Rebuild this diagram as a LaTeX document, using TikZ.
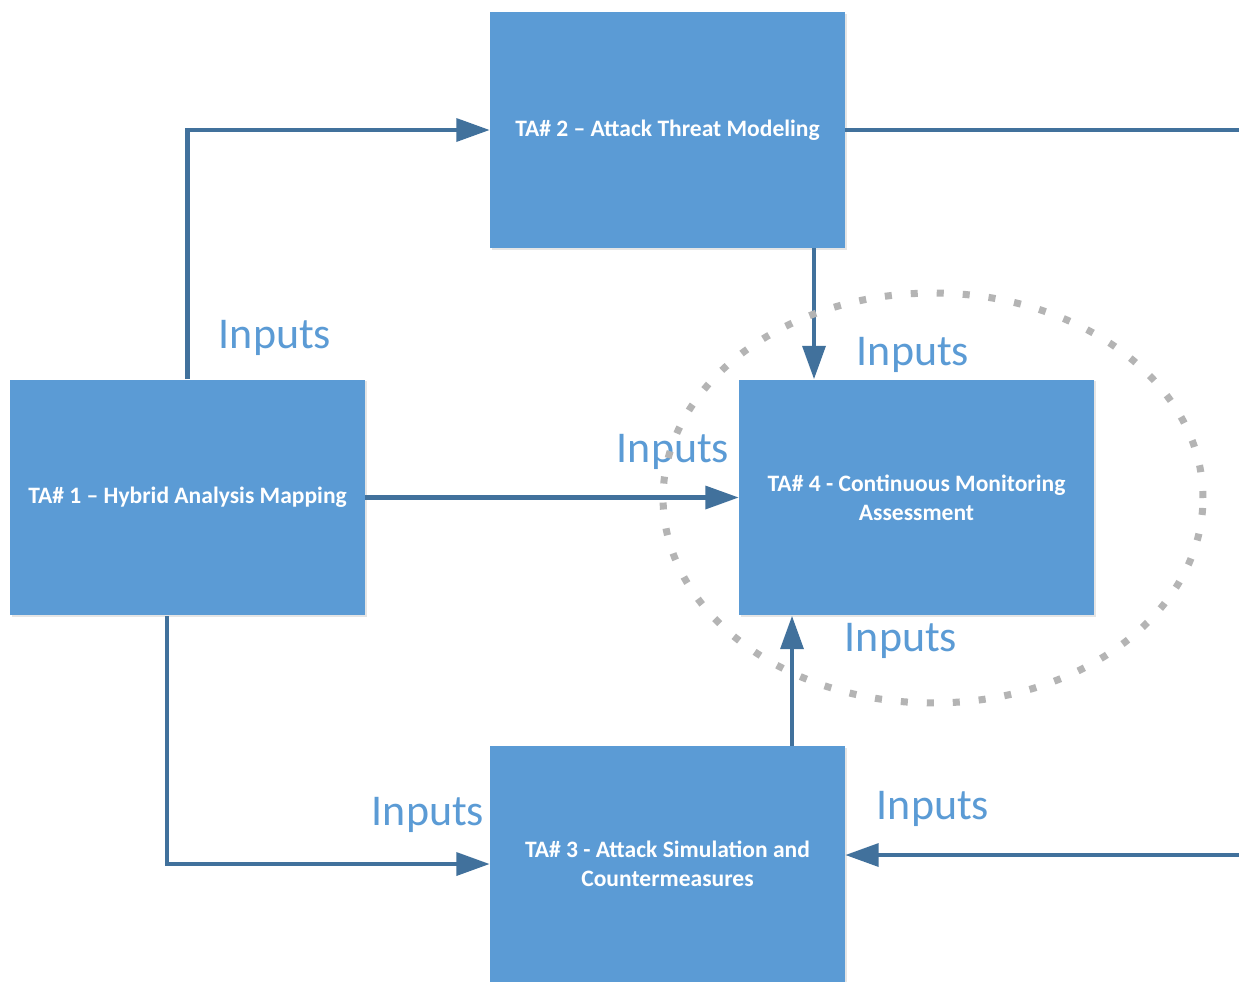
\documentclass[tikz,border=0pt]{standalone}
\usepackage{fontspec}
\setmainfont{Carlito}
\usetikzlibrary{arrows.meta,shadows,calc}
\definecolor{boxblue}{HTML}{5B9BD5}
\definecolor{arrowblue}{HTML}{41719C}
\definecolor{dotgray}{HTML}{B4B4B4}
\tikzset{
  tabox/.style={fill=boxblue, draw=none, minimum width=7.1cm, minimum height=4.72cm,
    inner sep=0pt, align=center, text=white,
    font=\bfseries\fontsize{13.4}{16.5}\selectfont,
    drop shadow={shadow xshift=1pt, shadow yshift=-1pt, opacity=0.2, fill=gray}},
  conn/.style={draw=arrowblue, line width=2.3pt},
  arr/.style={conn, -{Triangle[length=19pt,width=13pt]}},
  inlabel/.style={text=boxblue, font=\fontsize{25}{30}\selectfont, inner sep=0pt},
  dotring/.style={draw=dotgray, line width=4pt, dash pattern=on 4pt off 10.8pt}
}
\begin{document}
\begin{tikzpicture}[x=0.02cm, y=-0.02cm]
\useasboundingbox (0,0) rectangle (1239,981);
\clip (0,0) rectangle (1239,981);
\fill[white] (0,0) rectangle (1239,981);

\node[tabox] (a2) at (667.5,130) {TA\# 2 -- Attack Threat Modeling};
\node[tabox] (a1) at (187.5,497.5) {TA\# 1 -- Hybrid Analysis Mapping};
\node[tabox] (a4) at (916.5,497.5) {TA\# 4 - Continuous Monitoring\\Assessment};
\node[tabox] (a3) at (667.5,864) {TA\# 3 - Attack Simulation and\\Countermeasures};

\coordinate (x167) at (167,0);
\coordinate (x814) at (814,0);
\coordinate (x792) at (792,0);
\coordinate (rt) at (1245,130);
\coordinate (rb) at (1245,855);
\coordinate (y855) at (0,855);

\draw[arr] (a1.north) |- (a2.west);
\draw[arr] (a1.east) -- (a4.west);
\draw[arr] (a1.south -| x167) |- (a3.west);
\draw[arr] (a2.south -| x814) -- (a4.north -| x814);
\draw[arr] (a3.north -| x792) -- (a4.south -| x792);
\draw[conn] (a2.east) -- (rt) -- (rb);
\draw[arr] (rb) -- (a3.east |- y855);

\node[inlabel] (l1) at (275,338) {Inputs};
\node[inlabel] (l2) at (913,355) {Inputs};
\node[inlabel] (l3) at (673,452) {Inputs};
\node[inlabel] (l4) at (901,641) {Inputs};
\node[inlabel] (l5) at (428,815) {Inputs};
\node[inlabel] (l6) at (933,809) {Inputs};

\draw[dotring] (933,498) ellipse [x radius=5.4cm, y radius=4.1cm];
\end{tikzpicture}
\end{document}
